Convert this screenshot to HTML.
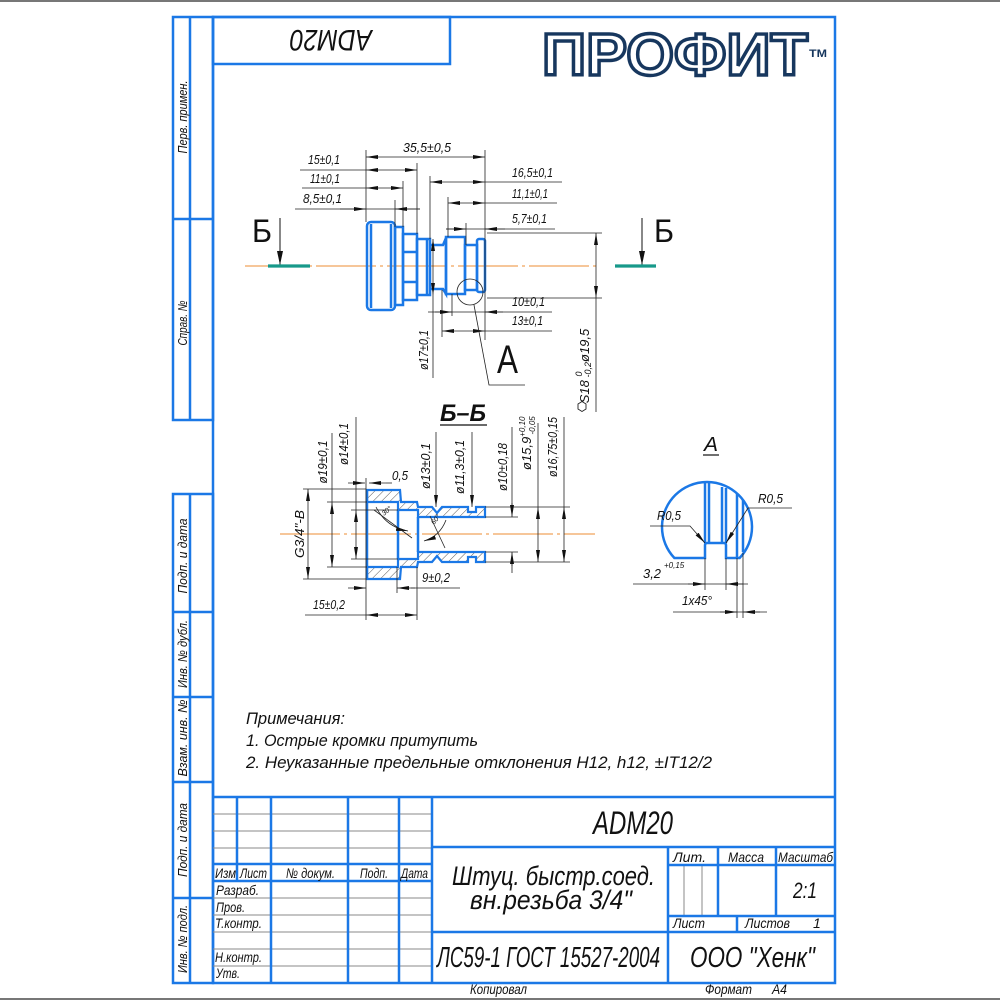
<!DOCTYPE html>
<html><head><meta charset="utf-8">
<style>
html,body{margin:0;padding:0;background:#fff;}
svg{display:block;}
text{font-family:"Liberation Sans","DejaVu Sans",sans-serif;font-style:italic;fill:#111;}
.b{stroke:#1b78e6;stroke-width:2.5;fill:none;}
.bf{stroke:#1b78e6;stroke-width:2.2;fill:url(#h);}
.t{stroke:#222;stroke-width:0.8;fill:none;}
.g{stroke:#8a8a8a;stroke-width:1;fill:none;}
.m{stroke:#222;stroke-width:0.8;fill:none;marker-end:url(#a);}
.d{stroke:#222;stroke-width:0.8;fill:none;marker-start:url(#a);marker-end:url(#a);}
.c{stroke:#f0a45c;stroke-width:1.2;fill:none;stroke-dasharray:60 4 3 4;}
</style></head><body>
<svg width="1000" height="1000" viewBox="0 0 1000 1000" xmlns="http://www.w3.org/2000/svg">
<defs>
<marker id="a" viewBox="0 0 12 4" refX="12" refY="2" markerWidth="12" markerHeight="4" markerUnits="userSpaceOnUse" orient="auto-start-reverse"><path d="M0,0L12,2L0,4z" fill="#111"/></marker>
<marker id="ab" viewBox="0 0 14 6" refX="14" refY="3" markerWidth="14" markerHeight="6" markerUnits="userSpaceOnUse" orient="auto"><path d="M0,0L14,3L0,6z" fill="#111"/></marker>
<pattern id="h" width="6" height="6" patternUnits="userSpaceOnUse" patternTransform="rotate(45)"><line x1="0" y1="0" x2="0" y2="6" stroke="#444" stroke-width="0.9"/></pattern>
</defs>

<!-- page edges -->
<line x1="0" y1="1" x2="1000" y2="1" stroke="#777" stroke-width="2"/>
<line x1="0" y1="999" x2="1000" y2="999" stroke="#777" stroke-width="2"/>

<!-- main frame -->
<rect x="213" y="17" width="622" height="966" class="b"/>
<!-- top-left strip -->
<rect x="173" y="17" width="40" height="403" class="b"/>
<line x1="190" y1="17" x2="190" y2="420" class="b"/>
<line x1="173" y1="219" x2="213" y2="219" class="b"/>
<!-- lower-left strip -->
<rect x="173" y="494" width="40" height="489" class="b"/>
<line x1="190" y1="494" x2="190" y2="983" class="b"/>
<line x1="173" y1="612" x2="213" y2="612" class="b"/>
<line x1="173" y1="697" x2="213" y2="697" class="b"/>
<line x1="173" y1="782" x2="213" y2="782" class="b"/>
<line x1="173" y1="898" x2="213" y2="898" class="b"/>

<g font-size="13">
<text transform="translate(187,117) rotate(-90)" text-anchor="middle" textLength="73" lengthAdjust="spacingAndGlyphs">Перв. примен.</text>
<text transform="translate(187,323) rotate(-90)" text-anchor="middle" textLength="45" lengthAdjust="spacingAndGlyphs">Справ. №</text>
<text transform="translate(187,556) rotate(-90)" text-anchor="middle" textLength="75" lengthAdjust="spacingAndGlyphs">Подп. и дата</text>
<text transform="translate(187,654) rotate(-90)" text-anchor="middle" textLength="68" lengthAdjust="spacingAndGlyphs">Инв. № дубл.</text>
<text transform="translate(187,738) rotate(-90)" text-anchor="middle" textLength="77" lengthAdjust="spacingAndGlyphs">Взам. инв. №</text>
<text transform="translate(187,840) rotate(-90)" text-anchor="middle" textLength="74" lengthAdjust="spacingAndGlyphs">Подп. и дата</text>
<text transform="translate(187,939) rotate(-90)" text-anchor="middle" textLength="68" lengthAdjust="spacingAndGlyphs">Инв. № подл.</text>
</g>

<!-- ADM20 upside-down box -->
<rect x="213" y="17" width="237" height="47" class="b"/>
<text x="331" y="52" font-size="30" text-anchor="middle" textLength="82" lengthAdjust="spacingAndGlyphs" transform="rotate(180 331 41)">ADM20</text>

<!-- logo -->
<text x="542" y="75" font-size="59" font-weight="bold" style="font-style:normal;fill:#fff;stroke:#17375e;stroke-width:3.4" textLength="266" lengthAdjust="spacingAndGlyphs">ПРОФИТ</text>
<text x="809" y="57" font-size="11" font-weight="bold" style="font-style:normal;fill:#17375e" textLength="18" lengthAdjust="spacingAndGlyphs">TM</text>

<!-- ============ MAIN VIEW ============ -->
<line x1="245" y1="266" x2="600" y2="266" class="c"/>
<!-- section markers -->
<text x="252" y="242" font-size="32" style="font-style:normal" textLength="20" lengthAdjust="spacingAndGlyphs">Б</text>
<line x1="280" y1="218" x2="280" y2="265" stroke="#111" stroke-width="1" marker-end="url(#ab)"/>
<line x1="268" y1="266" x2="310" y2="266" stroke="#17998a" stroke-width="3.2"/>
<text x="654" y="242" font-size="32" style="font-style:normal" textLength="20" lengthAdjust="spacingAndGlyphs">Б</text>
<line x1="642" y1="218" x2="642" y2="265" stroke="#111" stroke-width="1" marker-end="url(#ab)"/>
<line x1="615" y1="266" x2="656" y2="266" stroke="#17998a" stroke-width="3.2"/>

<!-- part -->
<rect x="367" y="222" width="28" height="88" rx="4" class="b"/>
<line x1="371" y1="224" x2="371" y2="308" class="b" stroke-width="1.6"/>
<line x1="391" y1="224" x2="391" y2="308" class="b" stroke-width="1.6"/>
<rect x="395" y="227" width="8" height="78" class="b"/>
<rect x="403" y="234" width="14" height="66" class="b"/>
<line x1="403" y1="252" x2="417" y2="252" class="b"/>
<line x1="403" y1="282" x2="417" y2="282" class="b"/>
<rect x="417" y="239" width="13" height="56" class="b"/>
<line x1="427" y1="240" x2="427" y2="294" class="b" stroke-width="1.6"/>
<path d="M430,245 L443,245 L446,238 L446,294 L443,289 L430,289" class="b"/>
<rect x="446" y="237" width="19" height="57" class="b"/>
<rect x="465" y="245" width="12" height="45" class="b"/>
<rect x="477" y="239" width="8" height="53" rx="2" class="b"/>

<!-- extension lines -->
<g class="t">
<line x1="366" y1="150" x2="366" y2="222"/>
<line x1="485" y1="150" x2="485" y2="340"/>
<line x1="417" y1="163" x2="417" y2="234"/>
<line x1="403" y1="181" x2="403" y2="227"/>
<line x1="395" y1="200" x2="395" y2="227"/>
<line x1="430" y1="176" x2="430" y2="239"/>
<line x1="448" y1="197" x2="448" y2="237"/>
<line x1="466" y1="223" x2="466" y2="245"/>
<line x1="452" y1="294" x2="452" y2="316"/>
<line x1="442" y1="290" x2="442" y2="337"/>
<line x1="487" y1="233" x2="602" y2="233"/>
<line x1="487" y1="298" x2="602" y2="298"/>
<line x1="300" y1="170" x2="366" y2="170"/>
<line x1="302" y1="188" x2="366" y2="188"/>
<line x1="295" y1="209" x2="420" y2="209"/>
<line x1="485" y1="182" x2="562" y2="182"/>
<line x1="485" y1="203" x2="557" y2="203"/>
<line x1="446" y1="229" x2="555" y2="229"/>
<line x1="428" y1="312" x2="552" y2="312"/>
<line x1="485" y1="331" x2="552" y2="331"/>
<line x1="433" y1="295" x2="433" y2="378"/>
<line x1="596" y1="298" x2="596" y2="412"/>
</g>
<!-- dimension lines -->
<line x1="366" y1="157" x2="485" y2="157" class="d"/>
<line x1="366" y1="170" x2="417" y2="170" class="d"/>
<line x1="366" y1="188" x2="403" y2="188" class="d"/>
<line x1="340" y1="209" x2="366" y2="209" class="m"/>
<line x1="420" y1="209" x2="395" y2="209" class="m"/>
<line x1="430" y1="182" x2="485" y2="182" class="d"/>
<line x1="448" y1="203" x2="485" y2="203" class="d"/>
<line x1="446" y1="229" x2="466" y2="229" class="m"/>
<line x1="505" y1="229" x2="485" y2="229" class="m"/>
<line x1="435" y1="312" x2="452" y2="312" class="m"/>
<line x1="503" y1="312" x2="485" y2="312" class="m"/>
<line x1="442" y1="331" x2="485" y2="331" class="d"/>
<line x1="433" y1="239" x2="433" y2="295" class="d"/>
<line x1="596" y1="233" x2="596" y2="298" class="d"/>

<g font-size="13">
<text x="403" y="152" textLength="48" lengthAdjust="spacingAndGlyphs">35,5±0,5</text>
<text x="308" y="164" textLength="32" lengthAdjust="spacingAndGlyphs">15±0,1</text>
<text x="310" y="183" textLength="30" lengthAdjust="spacingAndGlyphs">11±0,1</text>
<text x="303" y="203" textLength="39" lengthAdjust="spacingAndGlyphs">8,5±0,1</text>
<text x="512" y="177" textLength="41" lengthAdjust="spacingAndGlyphs">16,5±0,1</text>
<text x="512" y="198" textLength="36" lengthAdjust="spacingAndGlyphs">11,1±0,1</text>
<text x="512" y="223" textLength="35" lengthAdjust="spacingAndGlyphs">5,7±0,1</text>
<text x="512" y="306" textLength="33" lengthAdjust="spacingAndGlyphs">10±0,1</text>
<text x="512" y="325" textLength="31" lengthAdjust="spacingAndGlyphs">13±0,1</text>
<text transform="translate(428,350) rotate(-90)" text-anchor="middle" textLength="40" lengthAdjust="spacingAndGlyphs">ø17±0,1</text>
<text transform="translate(589,366) rotate(-90)" text-anchor="middle"><tspan>S18 </tspan><tspan font-size="9" dy="-7">0</tspan><tspan font-size="9" dx="-6" dy="9">-0,2</tspan><tspan dy="-2">ø19,5</tspan></text>
</g>
<polygon points="578,404 582,401.5 586,404 586,409 582,411.5 578,409" fill="none" stroke="#222" stroke-width="0.9"/>

<!-- detail A callout -->
<circle cx="470" cy="292" r="13" class="t" stroke-width="1"/>
<polyline points="474,305 489,385 525,385" class="t" stroke-width="1"/>
<text x="497" y="373" font-size="40" style="font-style:normal" textLength="21" lengthAdjust="spacingAndGlyphs">A</text>

<!-- ============ SECTION Б-Б ============ -->
<text x="440" y="421" font-size="24" font-weight="bold" textLength="46" lengthAdjust="spacingAndGlyphs">Б–Б</text>
<line x1="440" y1="425" x2="487" y2="425" stroke="#111" stroke-width="1.3"/>
<line x1="280" y1="534" x2="595" y2="534" class="c"/>

<path class="bf" d="M367,490 L400,490 L401,502 L417,502 L418,507 L432,507 L437,513 L442,507 L468,507 L468,512 L476,512 L476,507 L485,507 L485,517 L418,517 L418,510 L398,510 L398,502 L367,502 Z"/>
<path class="bf" d="M367,579 L400,579 L401,567 L417,567 L418,562 L432,562 L437,556 L442,562 L468,562 L468,557 L476,557 L476,562 L485,562 L485,552 L418,552 L418,559 L398,559 L398,567 L367,567 Z"/>
<line x1="367" y1="490" x2="367" y2="579" class="b"/>
<line x1="398" y1="510" x2="398" y2="559" class="b" stroke-width="1.8"/>
<line x1="418" y1="517" x2="418" y2="552" class="b" stroke-width="1.8"/>

<g class="t">
<line x1="303" y1="489" x2="366" y2="489"/>
<line x1="303" y1="579" x2="366" y2="579"/>
<line x1="327" y1="502" x2="367" y2="502"/>
<line x1="327" y1="567" x2="367" y2="567"/>
<line x1="351" y1="510" x2="398" y2="510"/>
<line x1="351" y1="559" x2="398" y2="559"/>
<line x1="332" y1="433" x2="332" y2="502"/>
<line x1="356" y1="417" x2="356" y2="510"/>
<line x1="366" y1="478" x2="366" y2="620"/>
<line x1="386" y1="483" x2="392" y2="483"/>
<line x1="397" y1="567" x2="397" y2="593"/>
<line x1="417" y1="567" x2="417" y2="620"/>
<line x1="411" y1="588" x2="460" y2="588"/>
<line x1="485" y1="507" x2="570" y2="507"/>
<line x1="485" y1="562" x2="570" y2="562"/>
<line x1="485" y1="517" x2="518" y2="517"/>
<line x1="485" y1="552" x2="518" y2="552"/>
<line x1="512" y1="427" x2="512" y2="505"/>
<line x1="512" y1="564" x2="512" y2="573"/>
<line x1="538" y1="423" x2="538" y2="507"/>
<line x1="564" y1="417" x2="564" y2="507"/>
<line x1="305" y1="615" x2="366" y2="615"/>
</g>
<line x1="308" y1="489" x2="308" y2="579" class="d"/>
<line x1="332" y1="502" x2="332" y2="567" class="d"/>
<line x1="356" y1="510" x2="356" y2="559" class="d"/>
<line x1="348" y1="483" x2="365" y2="483" class="m"/>
<line x1="386" y1="483" x2="369" y2="483" class="m"/>
<line x1="436" y1="432" x2="436" y2="507" class="m"/>
<line x1="472" y1="432" x2="472" y2="507" class="m"/>
<line x1="512" y1="503" x2="512" y2="517" class="m"/>
<line x1="512" y1="566" x2="512" y2="552" class="m"/>
<line x1="538" y1="507" x2="538" y2="562" class="d"/>
<line x1="564" y1="507" x2="564" y2="562" class="d"/>
<line x1="348" y1="588" x2="366" y2="588" class="m"/>
<line x1="415" y1="588" x2="397" y2="588" class="m"/>
<line x1="366" y1="615" x2="417" y2="615" class="d"/>
<path d="M376,507 Q386,527 408,531" class="m"/>
<line x1="374" y1="510" x2="412" y2="538" class="t"/>
<path d="M446,520 Q440,536 424,541" class="m"/>
<line x1="430" y1="516" x2="445" y2="548" class="t"/>
<text x="384" y="516" font-size="7" transform="rotate(-40 384 516)">30°</text>
<text x="434" y="525" font-size="7" transform="rotate(-50 434 525)">60°</text>

<g font-size="13">
<text transform="translate(327,462) rotate(-90)" text-anchor="middle" textLength="43" lengthAdjust="spacingAndGlyphs">ø19±0,1</text>
<text transform="translate(348,444) rotate(-90)" text-anchor="middle" textLength="42" lengthAdjust="spacingAndGlyphs">ø14±0,1</text>
<text transform="translate(304,534) rotate(-90)" text-anchor="middle" textLength="48" lengthAdjust="spacingAndGlyphs">G3/4"-B</text>
<text x="392" y="480" textLength="16" lengthAdjust="spacingAndGlyphs">0,5</text>
<text transform="translate(430,466) rotate(-90)" text-anchor="middle" textLength="46" lengthAdjust="spacingAndGlyphs">ø13±0,1</text>
<text transform="translate(464,467) rotate(-90)" text-anchor="middle" textLength="54" lengthAdjust="spacingAndGlyphs">ø11,3±0,1</text>
<text transform="translate(507,467) rotate(-90)" text-anchor="middle" textLength="48" lengthAdjust="spacingAndGlyphs">ø10±0,18</text>
<text transform="translate(531,470) rotate(-90)" text-anchor="start">ø15,9<tspan font-size="8" dy="-6">+0,10</tspan><tspan font-size="8" dx="-18" dy="10">-0,05</tspan></text>
<text transform="translate(557,447) rotate(-90)" text-anchor="middle" textLength="60" lengthAdjust="spacingAndGlyphs">ø16,75±0,15</text>
<text x="422" y="582" textLength="28" lengthAdjust="spacingAndGlyphs">9±0,2</text>
<text x="313" y="609" textLength="32" lengthAdjust="spacingAndGlyphs">15±0,2</text>
</g>

<!-- ============ DETAIL A ============ -->
<text x="704" y="451" font-size="20" textLength="14" lengthAdjust="spacingAndGlyphs">A</text>
<line x1="703" y1="455" x2="719" y2="455" stroke="#111" stroke-width="1.2"/>
<path class="b" d="M674.4,558 A45,45 0 1 1 739.6,558 L726,558 L726,545 Q726,543 724,543 L707,543 Q705,543 705,545 L705,558 Z"/>
<line x1="705" y1="483" x2="705" y2="543" class="b" stroke-width="1.8"/>
<line x1="709" y1="483" x2="709" y2="543" class="b" stroke-width="1.8"/>
<line x1="722" y1="487" x2="722" y2="543" class="b" stroke-width="1.8"/>
<line x1="726" y1="488" x2="726" y2="543" class="b" stroke-width="1.8"/>
<line x1="737" y1="494" x2="737" y2="558" class="b" stroke-width="1.8"/>
<line x1="743" y1="500" x2="743" y2="552" class="b" stroke-width="1.8"/>
<polyline points="650,526 690,526 705,543" class="m"/>
<polyline points="792,508 748,508 726,543" class="m"/>
<g class="t">
<line x1="705" y1="558" x2="705" y2="590"/>
<line x1="726" y1="558" x2="726" y2="590"/>
<line x1="737" y1="558" x2="737" y2="618"/>
<line x1="743" y1="553" x2="743" y2="618"/>
<line x1="633" y1="584" x2="748" y2="584"/>
<line x1="673" y1="612" x2="767" y2="612"/>
</g>
<line x1="688" y1="584" x2="705" y2="584" class="m"/>
<line x1="743" y1="584" x2="726" y2="584" class="m"/>
<line x1="720" y1="612" x2="737" y2="612" class="m"/>
<line x1="760" y1="612" x2="743" y2="612" class="m"/>
<g font-size="13">
<text x="657" y="520" textLength="24" lengthAdjust="spacingAndGlyphs">R0,5</text>
<text x="758" y="503" textLength="25" lengthAdjust="spacingAndGlyphs">R0,5</text>
<text x="643" y="578" textLength="18" lengthAdjust="spacingAndGlyphs">3,2</text>
<text x="664" y="568" font-size="8">+0,15</text>
<text x="682" y="605" textLength="30" lengthAdjust="spacingAndGlyphs">1x45°</text>
</g>

<!-- ============ NOTES ============ -->
<g font-size="17">
<text x="246" y="724" textLength="99" lengthAdjust="spacingAndGlyphs">Примечания:</text>
<text x="246" y="746" textLength="232" lengthAdjust="spacingAndGlyphs">1. Острые кромки притупить</text>
<text x="246" y="768" textLength="466" lengthAdjust="spacingAndGlyphs">2. Неуказанные предельные отклонения H12, h12, ±IT12/2</text>
</g>

<!-- ============ TITLE BLOCK ============ -->
<g class="g">
<line x1="213" y1="814" x2="432" y2="814"/>
<line x1="213" y1="831" x2="432" y2="831"/>
<line x1="213" y1="848" x2="432" y2="848"/>
<line x1="213" y1="898" x2="432" y2="898"/>
<line x1="213" y1="915" x2="432" y2="915"/>
<line x1="213" y1="932" x2="432" y2="932"/>
<line x1="213" y1="949" x2="432" y2="949"/>
<line x1="213" y1="966" x2="432" y2="966"/>
<line x1="684" y1="865" x2="684" y2="916"/>
<line x1="702" y1="865" x2="702" y2="916"/>
</g>
<g class="b">
<line x1="213" y1="797" x2="835" y2="797"/>
<line x1="432" y1="797" x2="432" y2="983"/>
<line x1="237" y1="797" x2="237" y2="881"/>
<line x1="271" y1="797" x2="271" y2="983"/>
<line x1="348" y1="797" x2="348" y2="983"/>
<line x1="399" y1="797" x2="399" y2="983"/>
<line x1="213" y1="864" x2="432" y2="864"/>
<line x1="213" y1="881" x2="432" y2="881"/>
<line x1="432" y1="847" x2="835" y2="847"/>
<line x1="432" y1="932" x2="835" y2="932"/>
<line x1="668" y1="847" x2="668" y2="983"/>
<line x1="668" y1="865" x2="835" y2="865"/>
<line x1="668" y1="916" x2="835" y2="916"/>
<line x1="718" y1="847" x2="718" y2="916"/>
<line x1="776" y1="847" x2="776" y2="916"/>
<line x1="737" y1="916" x2="737" y2="932"/>
</g>

<g font-size="14">
<text x="215" y="878" textLength="21" lengthAdjust="spacingAndGlyphs">Изм</text>
<text x="240" y="878" textLength="27" lengthAdjust="spacingAndGlyphs">Лист</text>
<text x="286" y="878" textLength="49" lengthAdjust="spacingAndGlyphs">№ докум.</text>
<text x="360" y="878" textLength="28" lengthAdjust="spacingAndGlyphs">Подп.</text>
<text x="401" y="878" textLength="27" lengthAdjust="spacingAndGlyphs">Дата</text>
<text x="216" y="895" textLength="43" lengthAdjust="spacingAndGlyphs">Разраб.</text>
<text x="216" y="912" textLength="29" lengthAdjust="spacingAndGlyphs">Пров.</text>
<text x="215" y="928" textLength="47" lengthAdjust="spacingAndGlyphs">Т.контр.</text>
<text x="215" y="962" textLength="47" lengthAdjust="spacingAndGlyphs">Н.контр.</text>
<text x="216" y="978" textLength="24" lengthAdjust="spacingAndGlyphs">Утв.</text>
<text x="673" y="862" textLength="33" lengthAdjust="spacingAndGlyphs">Лит.</text>
<text x="728" y="862" textLength="36" lengthAdjust="spacingAndGlyphs">Масса</text>
<text x="778" y="862" textLength="55" lengthAdjust="spacingAndGlyphs">Масштаб</text>
<text x="673" y="928" textLength="32" lengthAdjust="spacingAndGlyphs">Лист</text>
<text x="745" y="928" textLength="45" lengthAdjust="spacingAndGlyphs">Листов</text>
<text x="813" y="928">1</text>
<text x="470" y="994" textLength="57" lengthAdjust="spacingAndGlyphs">Копировал</text>
<text x="705" y="994" textLength="47" lengthAdjust="spacingAndGlyphs">Формат</text>
<text x="772" y="994" textLength="15" lengthAdjust="spacingAndGlyphs">A4</text>
</g>
<text x="593" y="834" font-size="32" textLength="80" lengthAdjust="spacingAndGlyphs">ADM20</text>
<text x="452" y="885" font-size="27" textLength="203" lengthAdjust="spacingAndGlyphs">Штуц. быстр.соед.</text>
<text x="470" y="909" font-size="27" textLength="162" lengthAdjust="spacingAndGlyphs">вн.резьба 3/4"</text>
<text x="437" y="967" font-size="29" textLength="223" lengthAdjust="spacingAndGlyphs">ЛС59-1 ГОСТ 15527-2004</text>
<text x="690" y="967" font-size="29" textLength="125" lengthAdjust="spacingAndGlyphs">ООО "Хенк"</text>
<text x="793" y="898" font-size="22" textLength="24" lengthAdjust="spacingAndGlyphs">2:1</text>
</svg>
</body></html>
